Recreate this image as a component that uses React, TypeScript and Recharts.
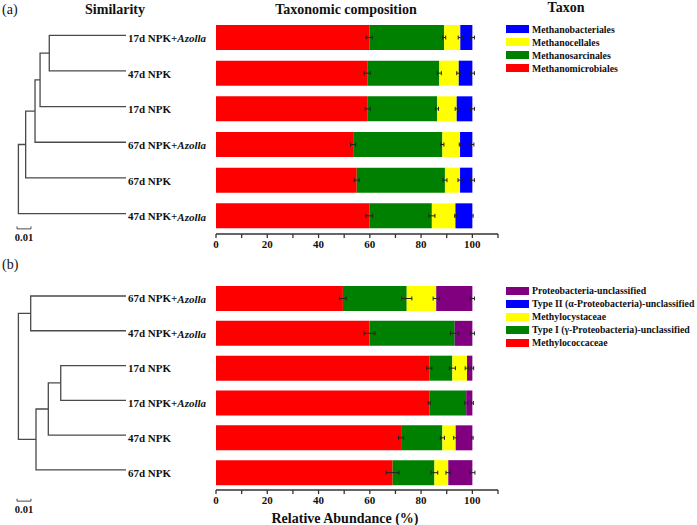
import React from 'react';
import { BarChart, Bar, XAxis, YAxis, ErrorBar, Legend, LineChart, Line, Label } from 'recharts';

const SERIF = '"Liberation Serif", "Times New Roman", serif';

// (a) methanogens
const methSamples = ['17d NPK+Azolla', '47d NPK', '17d NPK', '67d NPK+Azolla', '67d NPK', '47d NPK+Azolla'];
const methanomicrobiales = [59.8, 59.0, 59.2, 53.5, 54.9, 59.8];
const methanosarcinales = [29.2, 28.1, 27.0, 34.8, 34.4, 24.4];
const methanocellales = [6.3, 7.6, 7.7, 6.9, 5.9, 9.2];
const methanobacteriales = [4.7, 5.3, 6.1, 4.8, 4.8, 6.6];
const methanomicrobialesErr = [1.2, 1.2, 1.0, 1.0, 1.0, 1.3];
const methanosarcinalesErr = [0.6, 0.8, 0.6, 0.6, 0.8, 1.2];
const methanocellalesErr = [0.8, 0.8, 0.6, 0.3, 0.8, 0.3];
const methanobacterialesErr = [0.8, 0.8, 0.8, 0.6, 0.8, 0.3];
const methLegend = ['Methanobacteriales', 'Methanocellales', 'Methanosarcinales', 'Methanomicrobiales'];

// (b) methanotrophs
const mobSamples = ['67d NPK+Azolla', '47d NPK+Azolla', '17d NPK', '17d NPK+Azolla', '47d NPK', '67d NPK'];
const methylococcaceae = [49.5, 59.9, 83.2, 83.2, 72.2, 68.9];
const typeI = [24.9, 33.2, 9.0, 14.4, 16.1, 16.3];
const methylocystaceae = [11.5, 0, 5.7, 0, 5.2, 5.4];
const typeII = [0, 0, 0, 0, 0, 0];
const proteoUnclassified = [14.1, 6.9, 2.1, 2.4, 6.5, 9.4];
const methylococcaceaeErr = [1.3, 2.1, 1.0, 0.4, 1.0, 2.5];
const typeIErr = [2.0, 1.6, 1.2, 0.6, 0.8, 1.3];
const methylocystaceaeErr = [1.2, 0, 0.7, 0, 0.8, 0.9];
const proteoUnclassifiedErr = [0.8, 0.8, 0.5, 0.4, 0.3, 1.0];
const mobLegend = [
  'Proteobacteria-unclassified',
  'Type II (α-Proteobacteria)-unclassified',
  'Methylocystaceae',
  'Type I (γ-Proteobacteria)-unclassified',
  'Methylococcaceae',
];

const xTicks = [0, 10, 20, 30, 40, 50, 60, 70, 80, 90, 100, 110];

// dendrograms: distance from root, children are leaf rows (numbers) or node ids
const leafDist = 0.077;
const methTree = [
  { id: 'A', dist: 0.0221, kids: [0, 1] },
  { id: 'B', dist: 0.0155, kids: ['A', 2] },
  { id: 'C', dist: 0.0119, kids: ['B', 3] },
  { id: 'D', dist: 0.0052, kids: ['C', 4] },
  { id: 'E', dist: 0, kids: ['D', 5] },
];
const mobTree = [
  { id: 'P', dist: 0.0088, kids: [0, 1] },
  { id: 'Q', dist: 0.0303, kids: [2, 3] },
  { id: 'R', dist: 0.0214, kids: ['Q', 4] },
  { id: 'S', dist: 0.0126, kids: ['R', 5] },
  { id: 'T', dist: 0, kids: ['P', 'S'] },
];

const methRows = methSamples.map((name, i) => ({
  name,
  Methanomicrobiales: methanomicrobiales[i],
  Methanosarcinales: methanosarcinales[i],
  Methanocellales: methanocellales[i],
  Methanobacteriales: methanobacteriales[i],
  e1: methanomicrobialesErr[i],
  e2: methanosarcinalesErr[i],
  e3: methanocellalesErr[i],
  e4: methanobacterialesErr[i],
}));

const mobRows = mobSamples.map((name, i) => ({
  name,
  Methylococcaceae: methylococcaceae[i],
  typeI: typeI[i],
  Methylocystaceae: methylocystaceae[i],
  typeII: typeII[i],
  proteo: proteoUnclassified[i],
  e1: methylococcaceaeErr[i],
  e2: typeIErr[i],
  e3: methylocystaceaeErr[i],
  e5: proteoUnclassifiedErr[i],
}));

function buildBranches(nodes: any[]) {
  const pos: Record<string, { x: number; y: number }> = {};
  const at = (k: any) => (typeof k === 'number' ? { x: leafDist, y: k } : pos[k]);
  return nodes.map((n) => {
    const a = at(n.kids[0]);
    const b = at(n.kids[1]);
    pos[n.id] = { x: n.dist, y: (a.y + b.y) / 2 };
    return [
      { x: a.x, y: a.y },
      { x: n.dist, y: a.y },
      { x: n.dist, y: b.y },
      { x: b.x, y: b.y },
    ];
  });
}

function Dendrogram({ nodes, height, marginTop, scaleY }: any) {
  const branches = buildBranches(nodes);
  const scaleBar = [
    { x: -0.001, y: scaleY - 0.07 },
    { x: -0.001, y: scaleY },
    { x: 0.009, y: scaleY },
    { x: 0.009, y: scaleY - 0.07 },
  ];
  return (
    <LineChart width={128} height={height} margin={{ top: marginTop, right: 2, bottom: 1, left: 17 }}>
      <XAxis type="number" dataKey="x" domain={[-0.001, 0.077]} hide />
      <YAxis type="number" dataKey="y" domain={[-0.5, 6.5]} reversed hide />
      {branches.map((pts, i) => (
        <Line key={i} data={pts} dataKey="y" stroke="#4a4a4a" strokeWidth={1.3} dot={false} isAnimationActive={false} />
      ))}
      <Line data={scaleBar} dataKey="y" stroke="#4a4a4a" strokeWidth={1} dot={false} isAnimationActive={false} />
    </LineChart>
  );
}

const SampleTick = ({ y, payload }: any) => {
  const t: string = payload.value;
  const az = t.endsWith('+Azolla');
  return (
    <text x={128} y={y} dy={1.5} textAnchor="start" dominantBaseline="middle" fontFamily={SERIF} fontWeight="bold" fontSize={11} fill="#111">
      {az ? t.replace('Azolla', '') : t}
      {az && <tspan fontStyle="italic">Azolla</tspan>}
    </text>
  );
};

const makeLegend = (order: string[]) => (props: any) => {
  const items = [...(props.payload || [])].sort((a: any, b: any) => order.indexOf(a.value) - order.indexOf(b.value));
  return (
    <div>
      {items.map((it: any) => (
        <div key={it.value} style={{ display: 'flex', alignItems: 'center', height: 13 }}>
          <span style={{ display: 'inline-block', flexShrink: 0, width: 23, height: 8, background: it.color, marginRight: 3 }} />
          <span style={{ fontFamily: SERIF, fontWeight: 'bold', fontSize: 9.8, color: '#111', whiteSpace: 'nowrap' }}>{it.value}</span>
        </div>
      ))}
    </div>
  );
};

const tickFmt = (v: number) => (v % 20 === 0 && v <= 100 ? String(v) : '');
const tickStyle = { fontFamily: SERIF, fontWeight: 'bold', fontSize: 11, fill: '#111' };
const errProps = { direction: 'x' as const, width: 2, stroke: '#222', strokeWidth: 1 };

const title = (text: string, cx: number, cy: number, extra: any = {}) => (
  <div
    style={{
      position: 'absolute', left: cx - 100, top: cy - 8, width: 200, height: 16, lineHeight: '16px',
      textAlign: 'center', fontFamily: SERIF, fontWeight: 'bold', fontSize: 14, color: '#111', ...extra,
    }}
  >
    {text}
  </div>
);

export default function App() {
  return (
    <div style={{ position: 'absolute', left: 0, top: 0, width: 697, height: 525, background: '#fff', fontFamily: SERIF, overflow: 'hidden' }}>
      <div style={{ position: 'absolute', left: 0, top: 0 }}>
        <BarChart width={697} height={264} data={methRows} layout="vertical" margin={{ top: 20, right: 199, bottom: 0, left: 128 }} barSize={25}>
          <XAxis type="number" domain={[0, 110]} ticks={xTicks} interval={0} tickFormatter={tickFmt} tickSize={4}
            tick={tickStyle} stroke="#333" strokeWidth={1.3} height={30} />
          <YAxis type="category" dataKey="name" width={88} axisLine={false} tickLine={false} tick={<SampleTick />} interval={0} />
          <Legend layout="vertical" align="center" verticalAlign="middle" content={makeLegend(methLegend)}
            wrapperStyle={{ left: 506, top: 22.5, width: 190, height: 'auto' }} />
          <Bar dataKey="Methanomicrobiales" stackId="a" fill="#ff0000" isAnimationActive={false}>
            <ErrorBar dataKey="e1" {...errProps} />
          </Bar>
          <Bar dataKey="Methanosarcinales" stackId="a" fill="#008000" isAnimationActive={false}>
            <ErrorBar dataKey="e2" {...errProps} />
          </Bar>
          <Bar dataKey="Methanocellales" stackId="a" fill="#ffff00" isAnimationActive={false}>
            <ErrorBar dataKey="e3" {...errProps} />
          </Bar>
          <Bar dataKey="Methanobacteriales" stackId="a" fill="#0000ff" isAnimationActive={false}>
            <ErrorBar dataKey="e4" {...errProps} />
          </Bar>
        </BarChart>
      </div>
      <div style={{ position: 'absolute', left: 0, top: 0 }}>
        <Dendrogram nodes={methTree} height={268} marginTop={17.5} scaleY={5.43} />
      </div>

      <div style={{ position: 'absolute', left: 0, top: 260 }}>
        <BarChart width={697} height={265} data={mobRows} layout="vertical" margin={{ top: 21, right: 199, bottom: 0, left: 128 }} barSize={25}>
          <XAxis type="number" domain={[0, 110]} ticks={xTicks} interval={0} tickFormatter={tickFmt} tickSize={4}
            tick={tickStyle} stroke="#333" strokeWidth={1.3} height={35}>
            <Label value="Relative Abundance (%)" position="insideBottom" offset={2} dx={-12}
              style={{ fontFamily: SERIF, fontWeight: 'bold', fontSize: 14, fill: '#111' }} />
          </XAxis>
          <YAxis type="category" dataKey="name" width={88} axisLine={false} tickLine={false} tick={<SampleTick />} interval={0} />
          <Legend layout="vertical" align="center" verticalAlign="middle" content={makeLegend(mobLegend)}
            wrapperStyle={{ left: 506, top: 24, width: 191, height: 'auto' }} />
          <Bar dataKey="Methylococcaceae" stackId="a" fill="#ff0000" isAnimationActive={false}>
            <ErrorBar dataKey="e1" {...errProps} />
          </Bar>
          <Bar dataKey="typeI" name="Type I (γ-Proteobacteria)-unclassified" stackId="a" fill="#008000" isAnimationActive={false}>
            <ErrorBar dataKey="e2" {...errProps} />
          </Bar>
          <Bar dataKey="Methylocystaceae" stackId="a" fill="#ffff00" isAnimationActive={false}>
            <ErrorBar dataKey="e3" {...errProps} />
          </Bar>
          <Bar dataKey="typeII" name="Type II (α-Proteobacteria)-unclassified" stackId="a" fill="#0000ff" isAnimationActive={false} />
          <Bar dataKey="proteo" name="Proteobacteria-unclassified" stackId="a" fill="#800080" isAnimationActive={false}>
            <ErrorBar dataKey="e5" {...errProps} />
          </Bar>
        </BarChart>
      </div>
      <div style={{ position: 'absolute', left: 0, top: 260 }}>
        <Dendrogram nodes={mobTree} height={263} marginTop={18.6} scaleY={5.9} />
      </div>

      <div style={{ position: 'absolute', left: 2, top: 2, fontFamily: SERIF, fontSize: 14, lineHeight: '16px', color: '#111' }}>(a)</div>
      <div style={{ position: 'absolute', left: 2, top: 257, fontFamily: SERIF, fontSize: 14, lineHeight: '16px', color: '#111' }}>(b)</div>
      {title('Similarity', 115, 10)}
      {title('Taxonomic composition', 346, 10)}
      {title('Taxon', 566, 8)}
      {title('0.01', 24, 238, { fontSize: 10.5 })}
      {title('0.01', 24, 510, { fontSize: 10.5 })}
    </div>
  );
}
